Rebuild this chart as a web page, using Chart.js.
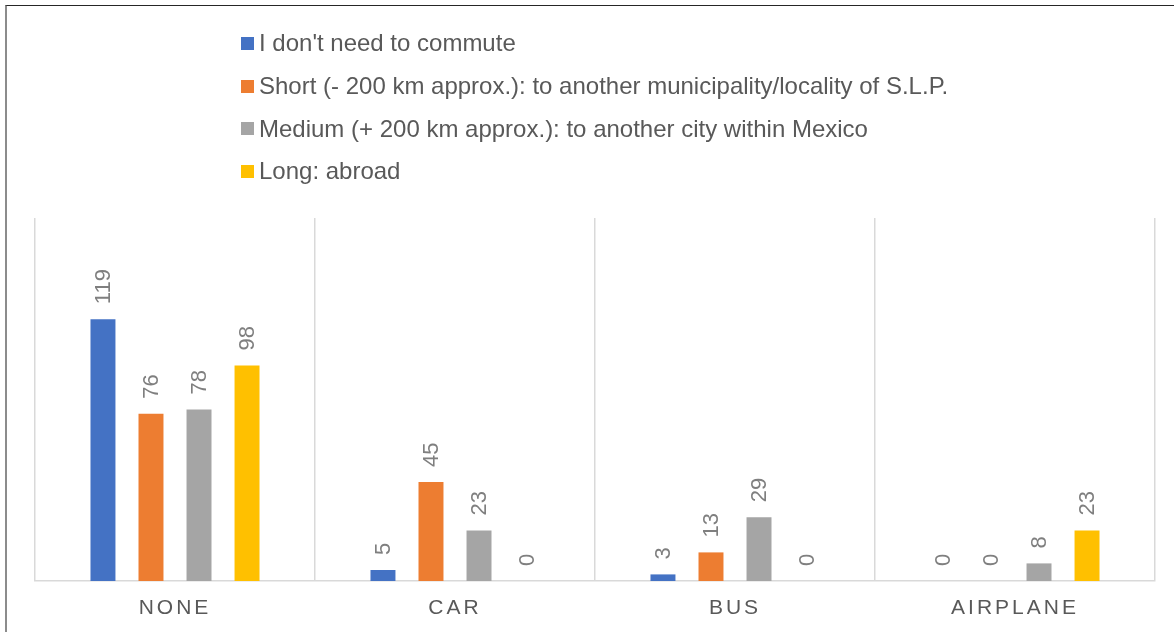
<!DOCTYPE html>
<html>
<head>
<meta charset="utf-8">
<title>Commute by transport</title>
<script src="https://cdn.jsdelivr.net/npm/chart.js@4.4.1/dist/chart.umd.min.js"></script>
<style>
  html, body { margin: 0; padding: 0; background: #fff; }
  body { width: 1174px; height: 632px; position: relative; overflow: hidden; font-family: "Liberation Sans", Arial, sans-serif; }
  #frame { position: absolute; left: 5px; top: 5px; width: 1300px; height: 800px; box-sizing: border-box;
           border-top: 1px solid #262626; border-left: 2px solid #8c8c8c; }
  #chart-wrap { position: absolute; left: 0; top: 0; width: 1174px; height: 632px; }
  #legend { position: absolute; left: 241px; top: 22px; margin: 0; padding: 0; list-style: none; }
  #legend li { display: flex; align-items: center; height: 42.7px; font-size: 24px; color: #595959; white-space: nowrap; }
  #legend .box { display: inline-block; width: 13px; height: 13px; margin-right: 5px; }
</style>
</head>
<body>
<div id="frame"></div>
<div id="chart-wrap"><canvas id="byTransport"></canvas></div>
<ul id="legend"></ul>

<script>
const categories = ["NONE", "CAR", "BUS", "AIRPLANE"];
const seriesNames = [
  "I don't need to commute",
  "Short (- 200 km approx.): to another municipality/locality of S.L.P.",
  "Medium (+ 200 km approx.): to another city within Mexico",
  "Long: abroad"
];
const noCommute = [119, 5, 3, 0];
const shortTrip = [76, 45, 13, 0];
const mediumTrip = [78, 23, 29, 8];
const longTrip = [98, 0, 0, 23];
const seriesColors = ["#4472C4", "#ED7D31", "#A5A5A5", "#FFC000"];

Chart.defaults.font.family = '"Liberation Sans", Arial, sans-serif';

// value printed vertically above every bar
const barValueLabels = {
  id: "barValueLabels",
  afterDatasetsDraw(chart) {
    const ctx = chart.ctx;
    ctx.save();
    ctx.font = '22px "Liberation Sans", Arial, sans-serif';
    ctx.fillStyle = "#7f7f7f";
    ctx.textAlign = "left";
    ctx.textBaseline = "middle";
    chart.data.datasets.forEach((ds, i) => {
      chart.getDatasetMeta(i).data.forEach((bar, j) => {
        ctx.save();
        ctx.translate(bar.x, bar.y - 15);
        ctx.rotate(-Math.PI / 2);
        ctx.fillText(String(ds.data[j]), 0, 1);
        ctx.restore();
      });
    });
    ctx.restore();
  }
};

// spaced out category names on the x axis
const spacedTicks = {
  id: "spacedTicks",
  beforeDraw(chart) { chart.ctx.letterSpacing = "3px"; },
  beforeDatasetsDraw(chart) { chart.ctx.letterSpacing = "0px"; }
};

const datasets = [noCommute, shortTrip, mediumTrip, longTrip].map((values, i) => ({
  label: seriesNames[i],
  data: values,
  backgroundColor: seriesColors[i],
  borderWidth: 0,
  categoryPercentage: 0.686,
  barPercentage: 0.52
}));

var ctx = document.getElementById("byTransport").getContext("2d");
var myChart = new Chart(ctx, {
  type: "bar",
  data: { labels: categories, datasets: datasets },
  options: {
    responsive: true,
    maintainAspectRatio: false,
    animation: false,
    layout: { padding: { top: 218, left: 35, right: 19, bottom: 0 } },
    plugins: { legend: { display: false }, tooltip: { enabled: false } },
    scales: {
      x: {
        grid: { offset: true, color: "#d9d9d9", lineWidth: 1.5, drawTicks: false },
        border: { color: "#d9d9d9", width: 1.5 },
        ticks: { color: "#595959", font: { size: 21 }, padding: 15 },
        afterFit: (scale) => { scale.height = 51; }
      },
      y: { display: false, min: 0, max: 165 }
    }
  },
  plugins: [barValueLabels, spacedTicks]
});

// legend list built from the datasets
const legendEl = document.getElementById("legend");
myChart.data.datasets.forEach((ds) => {
  const li = document.createElement("li");
  const box = document.createElement("span");
  box.className = "box";
  box.style.background = ds.backgroundColor;
  li.appendChild(box);
  li.appendChild(document.createTextNode(ds.label));
  legendEl.appendChild(li);
});
</script>
</body>
</html>
